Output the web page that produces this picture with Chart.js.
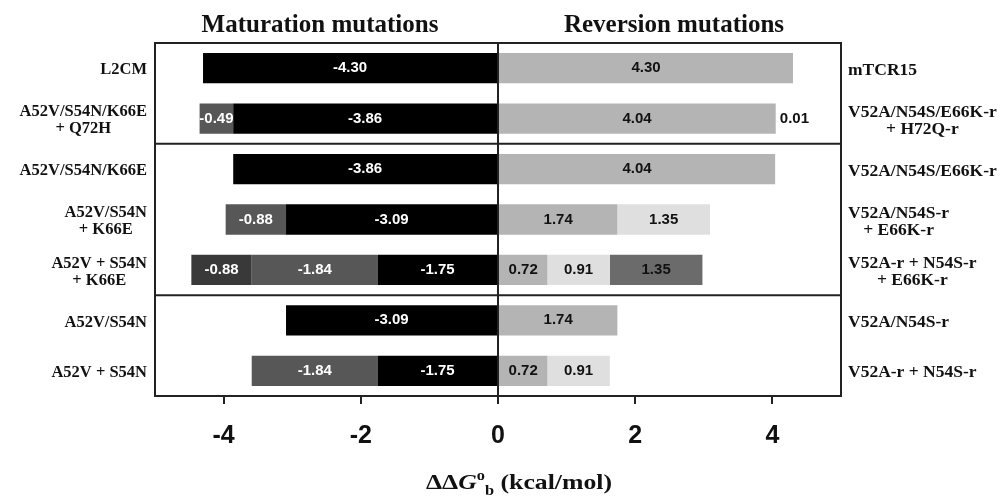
<!DOCTYPE html>
<html>
<head>
<meta charset="utf-8">
<script src="https://cdn.jsdelivr.net/npm/chart.js@4.4.0/dist/chart.umd.min.js"></script>
<style>
  html, body { margin: 0; padding: 0; background: #fff; }
  #wrap { width: 1002px; height: 500px; }
</style>
</head>
<body>
<div id="wrap"><canvas id="chart"></canvas></div>
<script>
// row names (left = maturation, right = reversion)
const categories = ['L2CM', 'A52V/S54N/K66E + Q72H', 'A52V/S54N/K66E', 'A52V/S54N + K66E',
                    'A52V + S54N + K66E', 'A52V/S54N', 'A52V + S54N'];
const leftLabels = [['L2CM'], ['A52V/S54N/K66E', '+ Q72H'], ['A52V/S54N/K66E'], ['A52V/S54N', '+ K66E'],
                    ['A52V + S54N', '+ K66E'], ['A52V/S54N'], ['A52V + S54N']];
const rightLabels = [['mTCR15'], ['V52A/N54S/E66K-r', '+ H72Q-r'], ['V52A/N54S/E66K-r'], ['V52A/N54S-r', '+ E66K-r'],
                     ['V52A-r + N54S-r', '+ E66K-r'], ['V52A/N54S-r'], ['V52A-r + N54S-r']];

// maturation segments (negative, stacked outward from 0)
const matBlack = [-4.30, -3.86, -3.86, -3.09, -1.75, -3.09, -1.75];
const matGray  = [null, -0.49, null, -0.88, -1.84, null, -1.84];
const matDark  = [null, null, null, null, -0.88, null, null];

// reversion segments
const revLight = [4.30, 4.04, 4.04, 1.74, 0.72, 1.74, 0.72];
const revPale  = [null, null, null, 1.35, 0.91, null, 0.91];
const revMid   = [null, null, null, null, 1.35, null, null];
const revExtra = [null, 0.01, null, null, null, null, null];

const tickVals = [-4, -2, 0, 2, 4];
const groupBreaks = [2, 5]; // lines drawn before these rows

const serif = '"Liberation Serif", "Times New Roman", serif';
const sans = '"Liberation Sans", Arial, sans-serif';

function ds(label, data, color, textColor, outside) {
  return {
    label: label, data: data, backgroundColor: color, borderWidth: 0,
    barPercentage: 0.6, categoryPercentage: 1.0,
    textColor: textColor, outside: !!outside
  };
}

const decor = {
  id: 'decor',
  afterDatasetsDraw(chart) {
    const ctx = chart.ctx;
    const area = chart.chartArea;
    const x = chart.scales.x, y = chart.scales.y;

    // value labels inside segments
    ctx.save();
    ctx.font = 'bold 15px ' + sans;
    ctx.textBaseline = 'middle';
    chart.data.datasets.forEach((d, i) => {
      const meta = chart.getDatasetMeta(i);
      meta.data.forEach((bar, j) => {
        const v = d.data[j];
        if (v == null) return;
        ctx.fillStyle = d.textColor;
        if (d.outside) {
          ctx.textAlign = 'left';
          ctx.fillText(v.toFixed(2), bar.x + 4, bar.y);
        } else {
          ctx.textAlign = 'center';
          ctx.fillText(v.toFixed(2), (bar.x + bar.base) / 2, bar.y);
        }
      });
    });
    ctx.restore();

    // frame, group separators, zero line
    ctx.save();
    ctx.strokeStyle = '#222';
    ctx.lineWidth = 2;
    ctx.strokeRect(area.left, area.top, area.right - area.left, area.bottom - area.top);
    groupBreaks.forEach(b => {
      const yy = (y.getPixelForValue(b - 1) + y.getPixelForValue(b)) / 2;
      ctx.beginPath();
      ctx.moveTo(area.left, yy);
      ctx.lineTo(area.right, yy);
      ctx.stroke();
    });
    const x0 = x.getPixelForValue(0);
    ctx.beginPath();
    ctx.moveTo(x0, area.top);
    ctx.lineTo(x0, area.bottom);
    ctx.stroke();
    ctx.restore();

    // row labels on both sides, lines centred within each block
    ctx.save();
    ctx.fillStyle = '#111';
    ctx.textAlign = 'center';
    ctx.textBaseline = 'middle';
    const lh = 17;
    categories.forEach((c, j) => {
      const cy = y.getPixelForValue(j) + 2;
      [[leftLabels[j], 'l'], [rightLabels[j], 'r']].forEach(([lines, side]) => {
        ctx.font = (side === 'l' ? 'bold 16.5px ' : 'bold 17.5px ') + serif;
        const w = Math.max(...lines.map(t => ctx.measureText(t).width));
        const cx = side === 'l' ? area.left - 8 - w / 2 : area.right + 7 + w / 2;
        const top = cy - (lines.length - 1) * lh / 2;
        lines.forEach((t, k) => ctx.fillText(t, cx, top + k * lh));
      });
    });
    ctx.restore();

    // panel titles
    ctx.save();
    ctx.font = 'bold 25px ' + serif;
    ctx.fillStyle = '#111';
    ctx.textAlign = 'center';
    ctx.textBaseline = 'alphabetic';
    ctx.fillText('Maturation mutations', 320, 32);
    ctx.fillText('Reversion mutations', 674, 32);
    ctx.restore();

    // axis title with super/subscript
    ctx.save();
    const runs = [
      { t: '\u0394\u0394', f: 'bold 22px ' + serif, dy: 0 },
      { t: 'G', f: 'italic bold 22px ' + serif, dy: 0 },
      { t: 'o', f: 'bold 14px ' + serif, dy: -9 },
      { t: 'b', f: 'bold 14px ' + serif, dy: 6 },
      { t: ' (kcal/mol)', f: 'bold 22px ' + serif, dy: 0 }
    ];
    let total = 0;
    runs.forEach(r => { ctx.font = r.f; r.w = ctx.measureText(r.t).width; total += r.w; });
    ctx.translate(519, 489);
    ctx.scale(1.17, 1);
    ctx.fillStyle = '#111';
    ctx.textAlign = 'left';
    ctx.textBaseline = 'alphabetic';
    let px = -total / 2;
    runs.forEach(r => { ctx.font = r.f; ctx.fillText(r.t, px, r.dy); px += r.w; });
    ctx.restore();
  }
};

new Chart(document.getElementById('chart'), {
  type: 'bar',
  data: {
    labels: categories,
    datasets: [
      ds('matBlack', matBlack, '#000000', '#ffffff'),
      ds('matGray', matGray, '#575757', '#ffffff'),
      ds('matDark', matDark, '#393939', '#ffffff'),
      ds('revLight', revLight, '#b4b4b4', '#111111'),
      ds('revPale', revPale, '#dfdfdf', '#111111'),
      ds('revMid', revMid, '#6b6b6b', '#111111'),
      ds('revExtra', revExtra, '#b4b4b4', '#111111', true)
    ]
  },
  options: {
    indexAxis: 'y',
    responsive: true,
    maintainAspectRatio: false,
    animation: false,
    layout: { padding: { left: 155, right: 161, top: 43, bottom: 32 } },
    plugins: {
      legend: { display: false },
      tooltip: { enabled: false }
    },
    scales: {
      x: {
        type: 'linear',
        min: -5,
        max: 5,
        stacked: true,
        afterBuildTicks: s => { s.ticks = tickVals.map(v => ({ value: v })); },
        grid: { drawOnChartArea: false, drawTicks: true, tickLength: 8, color: '#222', lineWidth: 2 },
        border: { display: false },
        ticks: {
          color: '#111',
          padding: 17,
          font: { family: sans, size: 25, weight: 'bold' },
          callback: v => String(v)
        }
      },
      y: {
        type: 'category',
        stacked: true,
        display: false
      }
    }
  },
  plugins: [decor]
});
</script>
</body>
</html>
